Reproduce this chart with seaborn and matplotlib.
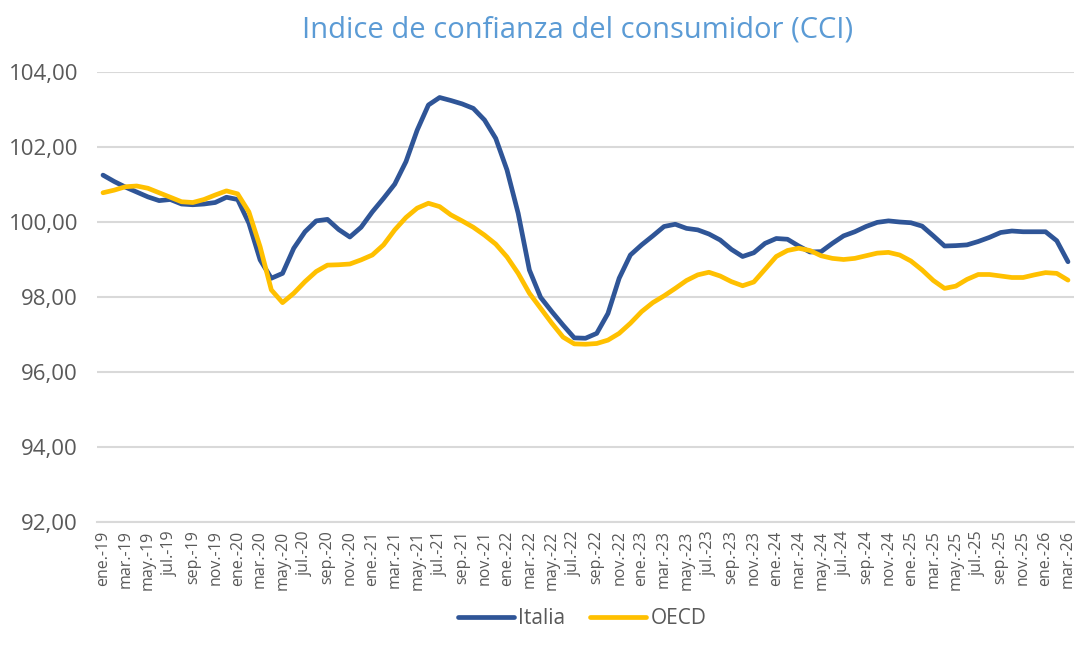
import matplotlib
matplotlib.use("Agg")
import matplotlib.pyplot as plt
import seaborn as sns
import pandas as pd
import numpy as np
from matplotlib.lines import Line2D

months_es = ["ene", "feb", "mar", "abr", "may", "jun", "jul", "ago", "sep", "oct", "nov", "dic"]
years = [19, 20, 21, 22, 23, 24, 25, 26]
periods = [f"{m}.-{y}" for y in years for m in months_es][:87]

italia = [
    101.25, 101.08, 100.93, 100.80, 100.67, 100.57, 100.60, 100.48, 100.46, 100.48, 100.52, 100.66,
    100.60, 99.97, 98.99, 98.50, 98.63, 99.30, 99.74, 100.03, 100.07, 99.80, 99.60, 99.86,
    100.27, 100.63, 101.01, 101.61, 102.45, 103.12, 103.32, 103.24, 103.15, 103.03, 102.72, 102.23,
    101.39, 100.23, 98.72, 97.99, 97.61, 97.25, 96.91, 96.90, 97.03, 97.56, 98.50, 99.12,
    99.39, 99.63, 99.88, 99.94, 99.83, 99.79, 99.68, 99.52, 99.27, 99.08, 99.18, 99.43,
    99.56, 99.54, 99.36, 99.20, 99.21, 99.43, 99.63, 99.74, 99.88, 99.99, 100.03, 100.00,
    99.98, 99.89, 99.63, 99.36, 99.37, 99.39, 99.48, 99.59, 99.72, 99.76, 99.74, 99.74,
    99.74, 99.50, 98.94,
]
oecd = [
    100.78, 100.85, 100.94, 100.96, 100.90, 100.78, 100.66, 100.54, 100.52, 100.60, 100.72, 100.83,
    100.75, 100.27, 99.34, 98.19, 97.85, 98.10, 98.41, 98.68, 98.85, 98.86, 98.88, 98.99,
    99.12, 99.39, 99.79, 100.12, 100.37, 100.50, 100.41, 100.19, 100.03, 99.86, 99.65, 99.41,
    99.07, 98.63, 98.10, 97.70, 97.30, 96.93, 96.75, 96.74, 96.76, 96.85, 97.03, 97.30,
    97.61, 97.85, 98.03, 98.23, 98.44, 98.59, 98.66, 98.56, 98.41, 98.30, 98.40, 98.74,
    99.08, 99.24, 99.30, 99.24, 99.10, 99.03, 99.00, 99.03, 99.10, 99.17, 99.19, 99.12,
    98.96, 98.72, 98.44, 98.23, 98.29, 98.47, 98.60, 98.60, 98.56, 98.52, 98.52, 98.59,
    98.65, 98.63, 98.45,
]
series_names = ["Italia", "OECD"]
y_ticks = [92, 94, 96, 98, 100, 102, 104]
title = "Indice de confianza del consumidor (CCI)"

idx = np.arange(len(periods))
df = pd.DataFrame({
    "idx": np.concatenate([idx, idx]),
    "valor": italia + oecd,
    "serie": [series_names[0]] * len(idx) + [series_names[1]] * len(idx),
})

sns.set_style("white")
plt.rcParams["font.family"] = ["Open Sans", "DejaVu Sans"]

fig = plt.figure(figsize=(10.76, 6.53), dpi=100)
ax = fig.add_axes([97.4 / 1076, 1 - 522 / 653, (1073.6 - 97.4) / 1076, (522 - 72) / 653])

palette = {"Italia": "#2F5597", "OECD": "#FFC000"}
sns.lineplot(data=df, x="idx", y="valor", hue="serie", palette=palette,
             linewidth=3.4, ax=ax, legend=False, solid_capstyle="round")

ax.set_xlim(-0.5, len(periods) - 0.5)
ax.set_ylim(92, 104)
ax.set_yticks(y_ticks)
ax.set_yticklabels([f"{v:.2f}".replace(".", ",") for v in y_ticks], fontsize=16, color="#595959")
ax.set_xticks(idx[::2])
ax.set_xticklabels(periods[::2], rotation=90, fontsize=11.5, color="#595959")
ax.tick_params(axis="x", length=0, pad=6)
ax.tick_params(axis="y", length=0, pad=14)
ax.grid(axis="y", color="#D9D9D9", linewidth=1.5)
ax.grid(axis="x", visible=False)
for s in ["top", "right", "left"]:
    ax.spines[s].set_visible(False)
ax.spines["bottom"].set_color("#D9D9D9")
ax.spines["bottom"].set_linewidth(1.5)
ax.set_xlabel("")
ax.set_ylabel("")

fig.text(578 / 1076, 1 - 30 / 653, title, ha="center", va="center", fontsize=21, color="#5B9BD5")

handles = [Line2D([0], [0], color=palette[n], linewidth=3.4, solid_capstyle="round") for n in series_names]
fig.legend(handles, series_names, loc="center", bbox_to_anchor=(582 / 1076, 1 - 619 / 653),
           ncol=2, frameon=False, fontsize=15, handlelength=2.7, columnspacing=1.2,
           handletextpad=0.2, labelcolor="#595959")

fig.savefig("out.png", dpi=100)
